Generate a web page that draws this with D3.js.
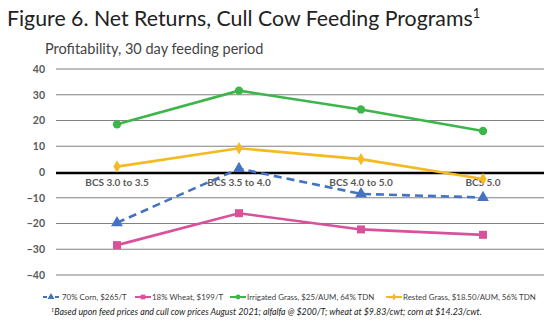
<!DOCTYPE html>
<html><head><meta charset="utf-8">
<script src="https://cdn.jsdelivr.net/npm/d3@7"></script>
<style>body{margin:0;background:#fff}svg{display:block}</style>
</head><body>
<svg id="c" width="552" height="322"></svg>
<script>
const categories = ["BCS 3.0 to 3.5", "BCS 3.5 to 4.0", "BCS 4.0 to 5.0", "BCS 5.0"];
const corn70 = [-19.7, 1.3, -8.5, -9.9];
const wheat18 = [-28.4, -16.0, -22.3, -24.4];
const irrigatedGrass = [18.5, 31.6, 24.3, 15.9];
const restedGrass = [2.1, 9.2, 5.0, -2.7];
const seriesNames = ["70% Corn, $265/T", "18% Wheat, $199/T", "Irrigated Grass, $25/AUM, 64% TDN", "Rested Grass, $18.50/AUM, 56% TDN"];
const yTicks = [40, 30, 20, 10, 0, -10, -20, -30, -40];

const series = [
  {name: seriesNames[0], values: corn70, color: "#4472C4", sym: d3.symbolTriangle, size: 60, dash: "8,5"},
  {name: seriesNames[1], values: wheat18, color: "#D9509B", sym: d3.symbolSquare, size: 64, dash: null},
  {name: seriesNames[2], values: irrigatedGrass, color: "#3DB54A", sym: d3.symbolCircle, size: 55, dash: null},
  {name: seriesNames[3], values: restedGrass, color: "#F5B921", sym: d3.symbolDiamond, size: 45, dash: null}
];

const svg = d3.select("#c");
const font = "Lato, 'Open Sans', sans-serif";

const x = d3.scaleBand().domain(categories).range([56, 544]);
const y = d3.scaleLinear().domain([-40, 40]).range([275, 69]);

// title
const t = svg.append("text").attr("x", 7).attr("y", 26).attr("font-family", font)
  .attr("font-size", 21.3).attr("fill", "#222");
t.append("tspan").text("Figure 6. Net Returns, Cull Cow Feeding Programs");
t.append("tspan").attr("dy", -8).attr("font-size", 13).text("1");

svg.append("text").attr("x", 45).attr("y", 54).attr("font-family", font)
  .attr("font-size", 14.5).attr("fill", "#444").text("Profitability, 30 day feeding period");

// gridlines
svg.append("g").selectAll("line").data(yTicks.filter(d => d !== 0)).join("line")
  .attr("x1", 56).attr("x2", 544).attr("y1", d => y(d)).attr("y2", d => y(d))
  .attr("stroke", "#808080").attr("stroke-width", 1.2);

// y axis labels
const yAxis = d3.axisLeft(y).tickValues(yTicks).tickSize(0).tickPadding(0);
const gy = svg.append("g").attr("transform", "translate(45,0)").call(yAxis);
gy.select(".domain").remove();
gy.selectAll("text").attr("font-family", font).attr("font-size", 10.5).attr("font-weight", "bold").attr("fill", "#595959");

// zero line
svg.append("line").attr("x1", 56).attr("x2", 544).attr("y1", y(0) + 1).attr("y2", y(0) + 1)
  .attr("stroke", "#000").attr("stroke-width", 2.6);

// category labels
const xAxis = d3.axisBottom(x).tickSize(0).tickPadding(0);
const gx = svg.append("g").attr("transform", `translate(0,${y(0) + 7})`).call(xAxis);
gx.select(".domain").remove();
gx.selectAll("text").attr("font-family", font).attr("font-size", 10).attr("font-weight", "bold").attr("fill", "#595959").attr("dy", "0.71em");

const cx = d => x(d) + x.bandwidth() / 2;
const line = d3.line().x(d => cx(d.c)).y(d => y(d.v));

series.forEach(s => {
  const pts = categories.map((c, i) => ({c, v: s.values[i]}));
  svg.append("path").datum(pts).attr("d", line).attr("fill", "none")
    .attr("stroke", s.color).attr("stroke-width", 2.6)
    .attr("stroke-dasharray", s.dash);
  svg.append("g").selectAll("path").data(pts).join("path")
    .attr("d", d3.symbol().type(s.sym).size(s.size))
    .attr("transform", d => `translate(${cx(d.c)},${y(d.v)})`)
    .attr("fill", s.color);
});

// legend
const legX = [43, 135, 230, 386];
const lg = svg.append("g");
series.forEach((s, i) => {
  const g = lg.append("g").attr("transform", `translate(${legX[i]},297)`);
  g.append("line").attr("x1", 0).attr("x2", 16).attr("y1", 0).attr("y2", 0)
    .attr("stroke", s.color).attr("stroke-width", 2).attr("stroke-dasharray", s.dash ? "4,2" : null);
  g.append("path").attr("d", d3.symbol().type(s.sym).size(s.size * 0.35)).attr("transform", "translate(8,0)").attr("fill", s.color);
  g.append("text").attr("x", i === 0 ? 19 : 17).attr("y", 3).attr("font-family", font).attr("font-size", 7.9)
    .attr("fill", "#404040").text(s.name);
});

// footnote
const f = svg.append("text").attr("x", 51).attr("y", 315).attr("font-family", font)
  .attr("font-size", 8.8).attr("font-style", "italic").attr("fill", "#222");
f.append("tspan").attr("font-size", 5.5).attr("dy", -3).text("1");
f.append("tspan").attr("dy", 3).text("Based upon feed prices and cull cow prices August 2021; alfalfa @ $200/T; wheat at $9.83/cwt; corn at $14.23/cwt.");
</script>
</body></html>
